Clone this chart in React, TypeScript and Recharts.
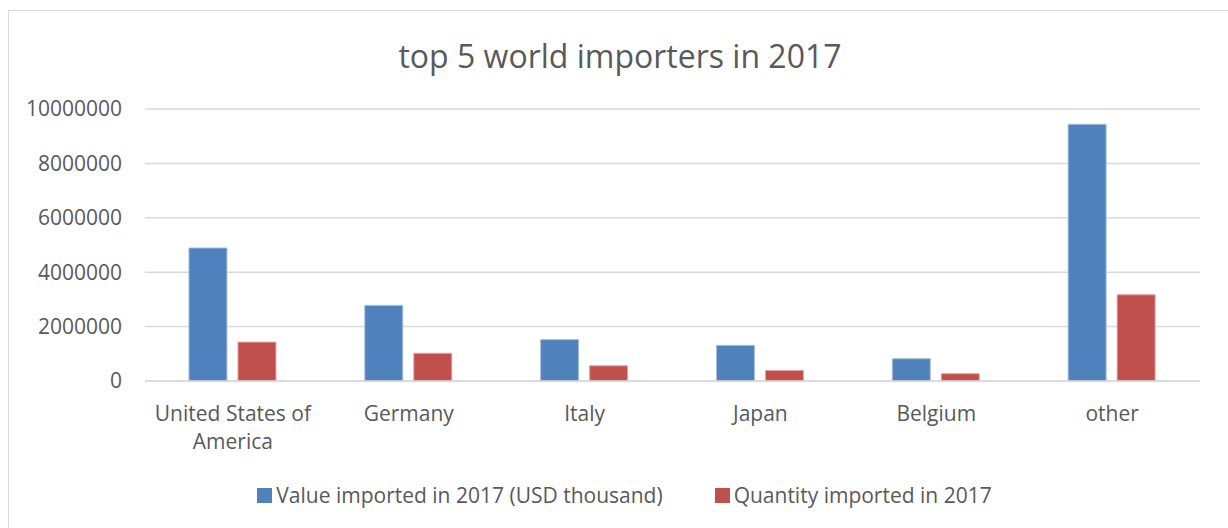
import { BarChart, Bar, XAxis, YAxis, CartesianGrid } from 'recharts';

const countries = ['United States of America', 'Germany', 'Italy', 'Japan', 'Belgium', 'other'];
const valueImported = [4890000, 2780000, 1520000, 1310000, 820000, 9440000];
const quantityImported = [1430000, 1020000, 560000, 390000, 270000, 3170000];
const yTicks = [0, 2000000, 4000000, 6000000, 8000000, 10000000];

const seriesNames = ['Value imported in 2017 (USD thousand)', 'Quantity imported in 2017'];
const seriesColors = ['#4F81BD', '#C0504D'];

const FONT = "'Open Sans', sans-serif";
const TEXT = '#595959';

const data = countries.map((name, i) => ({
  name,
  value: valueImported[i],
  quantity: quantityImported[i],
}));

// greedy word wrap, roughly like Excel's category labels
function wrapLabel(label: string, maxChars: number): string[] {
  const lines: string[] = [];
  let cur = '';
  for (const w of label.split(' ')) {
    const next = cur ? cur + ' ' + w : w;
    if (next.length > maxChars && cur) {
      lines.push(cur);
      cur = w;
    } else {
      cur = next;
    }
  }
  if (cur) lines.push(cur);
  return lines;
}

function CountryTick({ x, y, payload }: { x?: number; y?: number; payload?: { value: string } }) {
  const lines = wrapLabel(payload?.value ?? '', 16);
  return (
    <text x={x} y={(y ?? 0) + 32} textAnchor="middle" fontSize={21} fontFamily={FONT} fill={TEXT}>
      {lines.map((l, i) => (
        <tspan key={i} x={x} dy={i === 0 ? 0 : 28}>
          {l}
        </tspan>
      ))}
    </text>
  );
}

export default function App() {
  return (
    <div style={{ position: 'absolute', left: 0, top: 0, width: 1228, height: 528, background: '#fff', overflow: 'hidden' }}>
      <div
        style={{
          position: 'absolute',
          left: 8,
          top: 10,
          width: 1240,
          height: 540,
          borderTop: '1.5px solid #d9d9d9',
          borderLeft: '1.5px solid #d9d9d9',
        }}
      />
      <div
        style={{
          position: 'absolute',
          left: 0,
          top: 34,
          width: 1240,
          textAlign: 'center',
          fontFamily: FONT,
          fontSize: 32,
          color: TEXT,
        }}
      >
        top 5 world importers in 2017
      </div>
      <div style={{ position: 'absolute', left: 0, top: 0 }}>
        <BarChart
          width={1228}
          height={528}
          data={data}
          margin={{ top: 109, right: 28, bottom: 87, left: 0 }}
          barCategoryGap="25%"
          barGap={11}
        >
          <CartesianGrid vertical={false} stroke="#d9d9d9" strokeWidth={1.5} />
          <XAxis
            dataKey="name"
            interval={0}
            tickLine={false}
            axisLine={{ stroke: '#d9d9d9', strokeWidth: 1.5 }}
            tick={<CountryTick />}
            height={60}
          />
          <YAxis
            width={145}
            domain={[0, 10000000]}
            ticks={yTicks}
            tickLine={false}
            axisLine={false}
            tickMargin={17}
            tick={{ fontSize: 21, fontFamily: FONT, fill: TEXT }}
          />
          <Bar
            dataKey="value"
            name={seriesNames[0]}
            fill={seriesColors[0]}
            stroke="#a7c0de"
            strokeWidth={1}
            isAnimationActive={false}
          />
          <Bar
            dataKey="quantity"
            name={seriesNames[1]}
            fill={seriesColors[1]}
            stroke="#e0a8a6"
            strokeWidth={1}
            isAnimationActive={false}
          />
        </BarChart>
      </div>
      <div
        style={{
          position: 'absolute',
          left: 0,
          top: 481,
          width: 1249,
          display: 'flex',
          justifyContent: 'center',
          gap: 52,
          fontFamily: FONT,
          fontSize: 21,
          color: TEXT,
        }}
      >
        {seriesNames.map((n, i) => (
          <div key={n} style={{ display: 'flex', alignItems: 'center' }}>
            <span style={{ display: 'inline-block', width: 15, height: 15, background: seriesColors[i], marginRight: 4 }} />
            <span>{n}</span>
          </div>
        ))}
      </div>
    </div>
  );
}
